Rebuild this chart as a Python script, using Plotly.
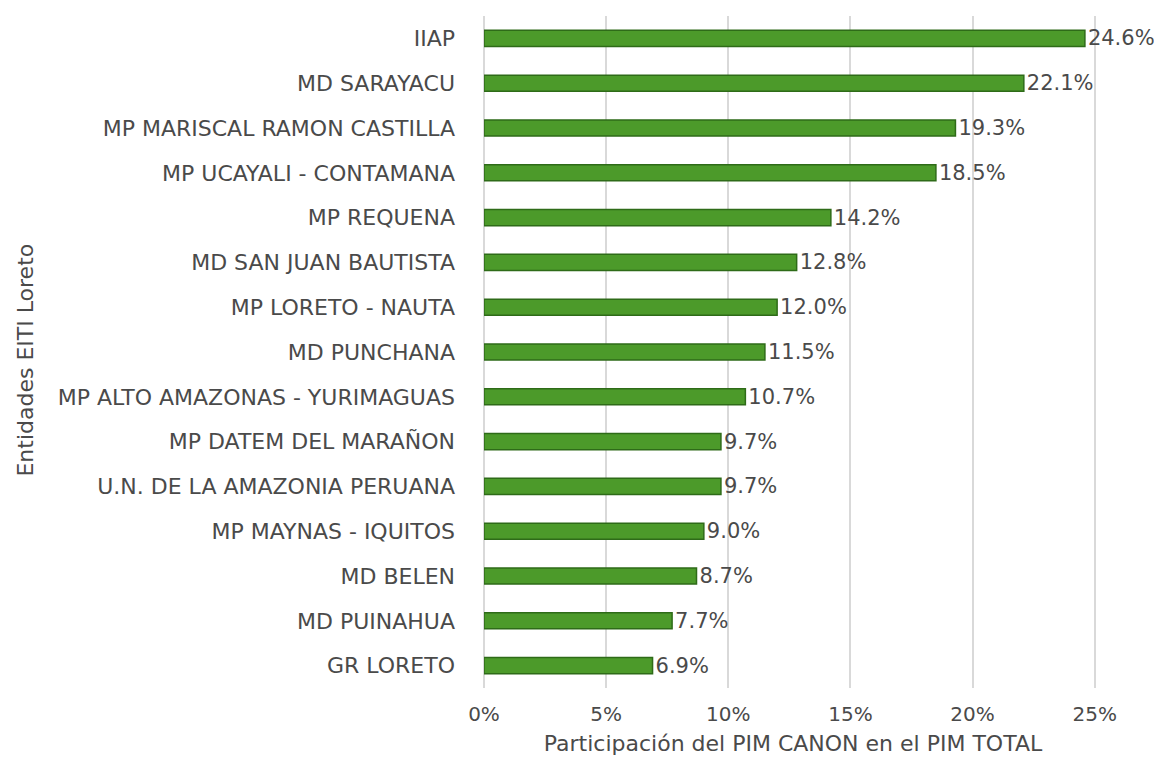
import plotly.graph_objects as go

entities = [
    "IIAP", "MD SARAYACU", "MP MARISCAL RAMON CASTILLA", "MP UCAYALI - CONTAMANA",
    "MP REQUENA", "MD SAN JUAN BAUTISTA", "MP LORETO - NAUTA", "MD PUNCHANA",
    "MP ALTO AMAZONAS - YURIMAGUAS", "MP DATEM DEL MARAÑON", "U.N. DE LA AMAZONIA PERUANA",
    "MP MAYNAS - IQUITOS", "MD BELEN", "MD PUINAHUA", "GR LORETO",
]
shares = [24.6, 22.1, 19.3, 18.5, 14.2, 12.8, 12.0, 11.5, 10.7, 9.7, 9.7, 9.0, 8.7, 7.7, 6.9]
tick_vals = [0, 5, 10, 15, 20, 25]
tick_text = ["0%", "5%", "10%", "15%", "20%", "25%"]

font = "DejaVu Sans"
grey = "#4a4a4a"

fig = go.Figure(go.Bar(
    x=shares[::-1],
    y=entities[::-1],
    orientation="h",
    marker=dict(color="#4c9a2a", line=dict(color="#2e6b18", width=1.5)),
    text=[f"{v:.1f}%" for v in shares[::-1]],
    textposition="outside",
    constraintext="none",
    textfont=dict(family=font, size=21, color=grey),
    cliponaxis=False,
))

plot_l, plot_r = 476, 68
plot_w = 1162 - plot_l - plot_r

fig.update_layout(
    width=1162, height=760,
    paper_bgcolor="white", plot_bgcolor="white",
    margin=dict(l=plot_l, r=plot_r, t=8, b=80),
    bargap=0.64,
    showlegend=False,
    xaxis=dict(
        range=[0, 25.3], tickvals=tick_vals, ticktext=tick_text,
        showgrid=True, gridcolor="#d9d9d9", gridwidth=1.5, zeroline=True,
        zerolinecolor="#d9d9d9", zerolinewidth=1.5,
        tickfont=dict(family=font, size=20, color=grey),
        title=dict(text="Participación del PIM CANON en el PIM TOTAL",
                   font=dict(family=font, size=22, color=grey), standoff=10),
        ticks="", ticklabelstandoff=12,
    ),
    yaxis=dict(
        tickfont=dict(family=font, size=22, color=grey),
        ticks="", ticklabelstandoff=28, automargin=False,
    ),
    annotations=[dict(
        text="Entidades EITI Loreto", textangle=-90,
        xref="paper", yref="paper", x=(3 - plot_l) / plot_w, y=0.488,
        xanchor="left", yanchor="middle", showarrow=False,
        font=dict(family=font, size=22, color=grey),
    )],
)

fig.write_html("out.html")
